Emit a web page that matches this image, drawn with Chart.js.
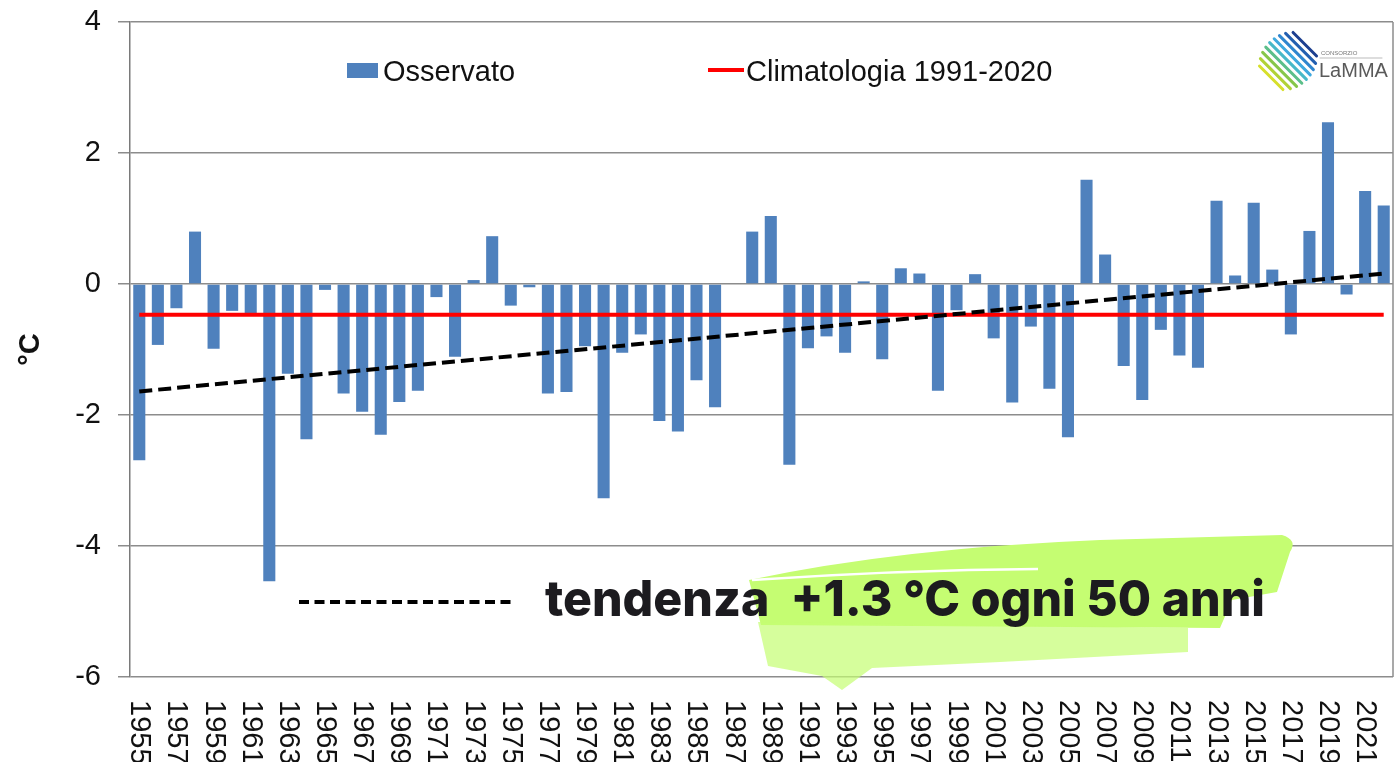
<!DOCTYPE html>
<html lang="it">
<head>
<meta charset="utf-8">
<title>Anomalie di temperatura 1955-2022</title>
<script src="https://cdn.jsdelivr.net/npm/chart.js@4.4.1/dist/chart.umd.min.js"></script>
<style>
  html, body { margin: 0; padding: 0; background: #ffffff; }
  #wrap { width: 1395px; height: 762px; }
</style>
</head>
<body>
<div id="wrap"><canvas id="chart" width="1395" height="762"></canvas></div>
<script>
// anni (categorie)
const years = [
  1955, 1956, 1957, 1958, 1959, 1960, 1961, 1962, 1963, 1964,
  1965, 1966, 1967, 1968, 1969, 1970, 1971, 1972, 1973, 1974,
  1975, 1976, 1977, 1978, 1979, 1980, 1981, 1982, 1983, 1984,
  1985, 1986, 1987, 1988, 1989, 1990, 1991, 1992, 1993, 1994,
  1995, 1996, 1997, 1998, 1999, 2000, 2001, 2002, 2003, 2004,
  2005, 2006, 2007, 2008, 2009, 2010, 2011, 2012, 2013, 2014,
  2015, 2016, 2017, 2018, 2019, 2020, 2021, 2022
];

// anomalia osservata (°C)
const observed = [
  -2.69, -0.93, -0.37, 0.80, -0.99, -0.41, -0.45, -4.54, -1.37, -2.37,
  -0.09, -1.67, -1.95, -2.30, -1.80, -1.63, -0.20, -1.11, 0.06, 0.73,
  -0.33, -0.05, -1.67, -1.65, -0.95, -3.27, -1.05, -0.77, -2.09, -2.25,
  -1.47, -1.88, 0.00, 0.80, 1.04, -2.76, -0.98, -0.80, -1.05, 0.04,
  -1.15, 0.24, 0.16, -1.63, -0.40, 0.15, -0.83, -1.81, -0.65, -1.60,
  -2.34, 1.59, 0.45, -1.25, -1.77, -0.70, -1.09, -1.28, 1.27, 0.13,
  1.24, 0.22, -0.77, 0.81, 2.47, -0.16, 1.42, 1.20
];

// climatologia 1991-2020 e retta di tendenza (estremi)
const climatology = -0.47;
const trendStart = -1.64;
const trendEnd = 0.16;

// etichette assi
const yTicks = [-6, -4, -2, 0, 2, 4];
const xTickLabels = [
  "1955", "1957", "1959", "1961", "1963", "1965", "1967", "1969", "1971",
  "1973", "1975", "1977", "1979", "1981", "1983", "1985", "1987", "1989",
  "1991", "1993", "1995", "1997", "1999", "2001", "2003", "2005", "2007",
  "2009", "2011", "2013", "2015", "2017", "2019", "2021"
];

const FONT = '"Liberation Sans", Arial, sans-serif';
const first = String(years[0]);
const last = String(years[years.length - 1]);

// legenda, annotazione, logo ed etichette x ruotate
const decorPlugin = {
    id: "decor",
    afterDraw(chart) {
        const { ctx, chartArea: a } = chart;
        const xs = chart.scales.x;
        ctx.save();

        // bordo destro dell'area grafico
        ctx.strokeStyle = "#8c8c8c";
        ctx.lineWidth = 1.5;
        ctx.beginPath();
        ctx.moveTo(a.right, a.top);
        ctx.lineTo(a.right, a.bottom);
        ctx.stroke();

        // etichette anni (ruotate in senso orario)
        ctx.fillStyle = "#111";
        ctx.font = `29px ${FONT}`;
        ctx.textAlign = "left";
        ctx.textBaseline = "middle";
        xTickLabels.forEach(lab => {
            const px = xs.getPixelForValue(years.indexOf(Number(lab)));
            ctx.save();
            ctx.translate(px, a.bottom + 23);
            ctx.rotate(Math.PI / 2);
            ctx.fillText(lab, 0, 0);
            ctx.restore();
        });

        // legenda
        const ds = chart.data.datasets;
        const bars = ds.find(d => d.type === "bar");
        const clim = ds.find(d => d.label.startsWith("Climatologia"));
        ctx.textBaseline = "alphabetic";
        ctx.fillStyle = bars.backgroundColor;
        ctx.fillRect(347, 63, 31, 15);
        ctx.fillStyle = "#111";
        ctx.fillText(bars.label, 383, 81);
        ctx.strokeStyle = clim.borderColor;
        ctx.lineWidth = 4;
        ctx.beginPath();
        ctx.moveTo(708, 70);
        ctx.lineTo(744, 70);
        ctx.stroke();
        ctx.fillText(clim.label, 746, 81);

        // pennellata verde
        ctx.fillStyle = "#c5fd72";
        ctx.beginPath();
        ctx.moveTo(749, 580);
        ctx.quadraticCurveTo(900, 548, 1100, 540);
        ctx.lineTo(1282, 535);
        ctx.quadraticCurveTo(1298, 540, 1290, 552);
        ctx.lineTo(1277, 592);
        ctx.lineTo(1232, 600);
        ctx.lineTo(1220, 628);
        ctx.lineTo(761, 625);
        ctx.closePath();
        ctx.fill();
        ctx.fillStyle = "rgba(197,253,114,0.7)";
        ctx.beginPath();
        ctx.moveTo(758, 622);
        ctx.lineTo(1188, 628);
        ctx.lineTo(1188, 652);
        ctx.lineTo(1000, 662);
        ctx.lineTo(872, 668);
        ctx.lineTo(842, 690);
        ctx.lineTo(822, 676);
        ctx.lineTo(768, 666);
        ctx.closePath();
        ctx.fill();
        ctx.strokeStyle = "#ffffff";
        ctx.lineWidth = 2.5;
        ctx.beginPath();
        ctx.moveTo(752, 580);
        ctx.quadraticCurveTo(900, 570, 1038, 569);
        ctx.stroke();

        // campione tratteggiato + testo tendenza
        ctx.strokeStyle = "#000";
        ctx.lineWidth = 4;
        ctx.setLineDash([10, 5.5]);
        ctx.beginPath();
        ctx.moveTo(299, 602);
        ctx.lineTo(513, 602);
        ctx.stroke();
        ctx.setLineDash([]);

        const note = "tendenza  +1.3 °C ogni 50 anni";
        ctx.font = `800 50px Inter, "Open Sans", sans-serif`;
        ctx.fillStyle = "#1c1b1f";
        const w = ctx.measureText(note).width;
        ctx.save();
        ctx.translate(545, 616);
        ctx.scale(720 / w, 1);
        ctx.fillText(note, 0, 0);
        ctx.restore();

        // logo LaMMA
        const stripeColors = ["#1d3f8f", "#235fb0", "#2f86cf", "#3fa9df", "#47b8c8",
                              "#5cbf8a", "#86c64a", "#b1d236", "#d7df2b"];
        ctx.lineCap = "round";
        ctx.lineWidth = 3;
        stripeColors.forEach((c, i) => {
            const k = i - 4;
            const cx = 1288 - k * 4.2;
            const cy = 61 + k * 4.2;
            const half = 26 * Math.sqrt(1 - (k / 5.2) * (k / 5.2));
            const d = half / Math.SQRT2;
            ctx.strokeStyle = c;
            ctx.beginPath();
            ctx.moveTo(cx - d, cy - d);
            ctx.lineTo(cx + d, cy + d);
            ctx.stroke();
        });
        ctx.fillStyle = "#777";
        ctx.font = `6px ${FONT}`;
        ctx.fillText("CONSORZIO", 1321, 55);
        ctx.strokeStyle = "#aaa";
        ctx.lineWidth = 0.8;
        ctx.beginPath();
        ctx.moveTo(1320, 58);
        ctx.lineTo(1382, 58);
        ctx.stroke();
        ctx.fillStyle = "#5a5a5a";
        ctx.font = `20px ${FONT}`;
        ctx.fillText("LaMMA", 1319, 77);

        ctx.restore();
    }
};

new Chart(document.getElementById("chart").getContext("2d"), {
    type: "bar",
    data: {
        labels: years.map(String),
        datasets: [
            {
                type: "line",
                label: "Tendenza",
                data: [{ x: first, y: trendStart }, { x: last, y: trendEnd }],
                borderColor: "#000000",
                borderWidth: 4,
                borderDash: [13, 6],
                pointRadius: 0,
                fill: false,
                order: 0
            },
            {
                type: "line",
                label: "Climatologia 1991-2020",
                data: [{ x: first, y: climatology }, { x: last, y: climatology }],
                borderColor: "#ff0000",
                borderWidth: 4,
                pointRadius: 0,
                fill: false,
                order: 1
            },
            {
                type: "bar",
                label: "Osservato",
                data: observed,
                backgroundColor: "#4f81bd",
                barPercentage: 0.65,
                categoryPercentage: 1,
                order: 2
            }
        ]
    },
    options: {
        responsive: false,
        animation: false,
        devicePixelRatio: 1,
        layout: { padding: { top: 22, right: 2, left: 0, bottom: 0 } },
        plugins: {
            legend: { display: false },
            tooltip: { enabled: false }
        },
        scales: {
            x: {
                grid: { display: false },
                border: { display: false },
                ticks: { display: false },
                afterFit(scale) { scale.height = 85; }
            },
            y: {
                min: yTicks[0],
                max: yTicks[yTicks.length - 1],
                ticks: {
                    stepSize: 2,
                    color: "#111",
                    padding: 17,
                    font: { family: FONT, size: 29 }
                },
                grid: { color: "#8c8c8c", lineWidth: 1.5, tickLength: 12 },
                border: { color: "#7a7a7a", width: 1.5 },
                title: {
                    display: true,
                    text: "°C",
                    color: "#111",
                    font: { family: FONT, size: 29, weight: "bold" },
                    padding: { top: 14, bottom: 0 }
                },
                afterFit(scale) {
                    scale.width = 130;
                    scale.paddingTop = 0;
                    scale.paddingBottom = 0;
                }
            }
        }
    },
    plugins: [decorPlugin]
});
</script>
</body>
</html>
